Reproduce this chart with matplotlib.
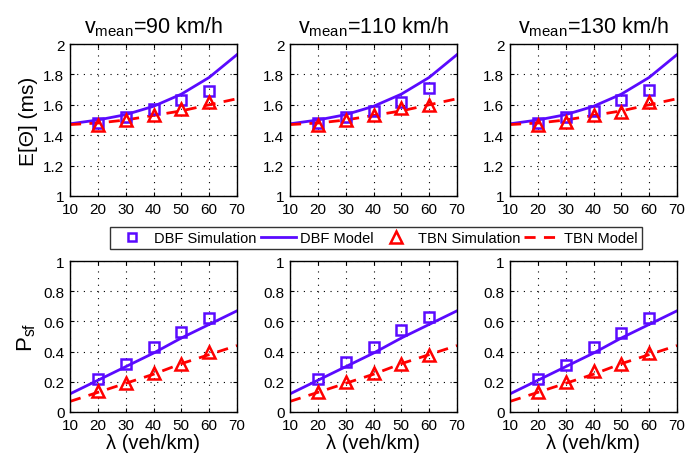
import numpy as np
import matplotlib
matplotlib.use("Agg")
import matplotlib.pyplot as plt
from matplotlib.lines import Line2D

plt.rcParams['font.family'] = ['Liberation Sans', 'DejaVu Sans']
plt.rcParams['mathtext.fontset'] = 'custom'
plt.rcParams['mathtext.rm'] = 'Liberation Sans'

# data
speeds = [90, 110, 130]
lam_model = [10, 20, 30, 40, 50, 60, 70]
lam_sim = [20, 30, 40, 50, 60]

delay_dbf_model = [1.475, 1.50, 1.535, 1.59, 1.67, 1.78, 1.93]
delay_tbn_model = [1.47, 1.48, 1.50, 1.53, 1.56, 1.60, 1.64]
delay_dbf_sim = [[1.48, 1.52, 1.57, 1.63, 1.69],
                 [1.48, 1.52, 1.56, 1.62, 1.71],
                 [1.48, 1.52, 1.56, 1.63, 1.70]]
delay_tbn_sim = [[1.47, 1.50, 1.53, 1.57, 1.62],
                 [1.47, 1.50, 1.53, 1.58, 1.60],
                 [1.47, 1.49, 1.53, 1.55, 1.62]]

psf_dbf_model = [0.12, 0.21, 0.30, 0.39, 0.49, 0.58, 0.67]
psf_tbn_model = [0.07, 0.13, 0.19, 0.25, 0.32, 0.38, 0.44]
psf_dbf_sim = [[0.22, 0.32, 0.43, 0.53, 0.62],
               [0.22, 0.33, 0.43, 0.54, 0.63],
               [0.22, 0.31, 0.43, 0.52, 0.62]]
psf_tbn_sim = [[0.14, 0.19, 0.26, 0.32, 0.40],
               [0.13, 0.20, 0.26, 0.32, 0.38],
               [0.13, 0.20, 0.27, 0.32, 0.39]]

blue = '#5a0aff'
red = '#ff0000'

fig = plt.figure(figsize=(6.97, 4.56), dpi=100)
W, H = 697, 456
lefts = [70, 290, 510]
width = 167
rows = [(45, 197), (262, 413)]


def style(ax, ylim, yticks):
    ax.set_xlim(10, 70)
    ax.set_ylim(*ylim)
    ax.set_xticks(range(10, 71, 10))
    ax.set_yticks(yticks)
    ax.grid(True, linestyle=(0, (1, 5)), color='black', linewidth=0.8)
    ax.tick_params(direction='in', labelsize=11, length=3, top=True, right=True)
    ax.tick_params(axis='x', pad=4)
    ax.tick_params(axis='y', pad=4)
    for s in ax.spines.values():
        s.set_linewidth(1.0)


for i, v in enumerate(speeds):
    for r, (top, bot) in enumerate(rows):
        ax = fig.add_axes([lefts[i] / W, 1 - bot / H, width / W, (bot - top) / H])
        if r == 0:
            ax.plot(lam_model, delay_dbf_model, '-', color=blue, lw=2)
            ax.plot(lam_model, delay_tbn_model, '--', color=red, lw=2, dashes=(4, 3))
            ax.plot(lam_sim, delay_dbf_sim[i], 's', mfc='none', mec=blue, mew=1.8, ms=7)
            ax.plot(lam_sim, delay_tbn_sim[i], '^', mfc='none', mec=red, mew=1.8, ms=9)
            style(ax, (1, 2), [1, 1.2, 1.4, 1.6, 1.8, 2])
            ax.set_yticklabels(['1', '1.2', '1.4', '1.6', '1.8', '2'])
            ax.set_title(r'v$_{\rm mean}$=%d km/h' % v, fontsize=15.5, pad=8)
            if i == 0:
                ax.set_ylabel('E[Θ] (ms)', fontsize=15)
        else:
            ax.plot(lam_model, psf_dbf_model, '-', color=blue, lw=2)
            ax.plot(lam_model, psf_tbn_model, '--', color=red, lw=2, dashes=(4, 3))
            ax.plot(lam_sim, psf_dbf_sim[i], 's', mfc='none', mec=blue, mew=1.8, ms=7)
            ax.plot(lam_sim, psf_tbn_sim[i], '^', mfc='none', mec=red, mew=1.8, ms=9)
            style(ax, (0, 1), [0, 0.2, 0.4, 0.6, 0.8, 1])
            ax.set_yticklabels(['0', '0.2', '0.4', '0.6', '0.8', '1'])
            ax.set_xlabel('λ (veh/km)', fontsize=14.5, labelpad=1)
            if i == 0:
                ax.set_ylabel(r'P$_{\rm sf}$', fontsize=16)

handles = [
    Line2D([], [], ls='none', marker='s', mfc='none', mec=blue, mew=1.8, ms=6),
    Line2D([], [], ls='-', color=blue, lw=2),
    Line2D([], [], ls='none', marker='^', mfc='none', mec=red, mew=1.8, ms=8),
    Line2D([], [], ls='--', color=red, lw=2, dashes=(4, 3)),
]
labels = ['DBF Simulation', 'DBF Model', 'TBN Simulation', 'TBN Model']
fig.legend(handles, labels, ncol=4, loc='center', bbox_to_anchor=(376 / W, 1 - 239 / H),
           fontsize=10.5, frameon=True, fancybox=False, edgecolor='black',
           handlelength=2.4, columnspacing=0.3, handletextpad=0.3, borderpad=0.3,
           borderaxespad=0.0)

fig.savefig('out.png', dpi=100)
